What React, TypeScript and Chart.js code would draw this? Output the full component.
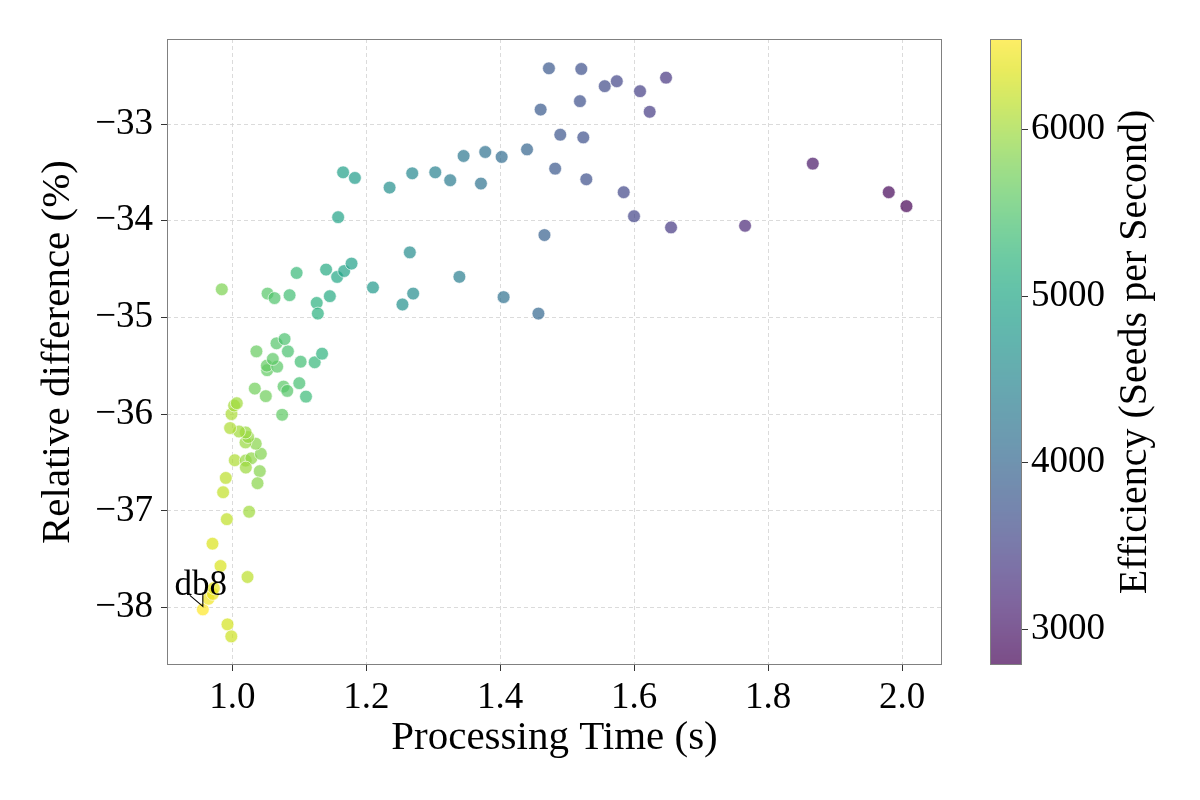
import React, { useEffect, useRef } from 'react';
import { Chart, registerables } from 'chart.js';

Chart.register(...registerables);

// Processing time per run (s)
const processingTime = [
  0.956, 0.9645, 0.971, 0.9725, 0.9928, 0.9985, 0.9704, 0.9824, 1.0227, 1.0251,
  0.9918, 0.9903, 0.9863, 1.0037, 1.02, 1.0284, 1.0202, 1.041, 1.0376, 1.0426,
  1.035, 1.0197, 1.0236, 1.02, 1.01, 0.9967, 0.9988, 1.0027, 1.0067, 1.0744,
  1.05, 1.11, 1.0336, 1.0765, 1.082, 1.1, 1.052, 1.0515, 1.067, 1.0605,
  1.102, 1.123, 1.134, 1.036, 1.083, 1.066, 1.078, 0.9843, 1.0526, 1.063,
  1.0855, 1.096, 1.126, 1.1277, 1.1456, 1.14, 1.1565, 1.167, 1.178, 1.21,
  1.158, 1.1654, 1.183, 1.2348, 1.2686, 1.303, 1.3253, 1.3712, 1.3453, 1.3776,
  1.4021, 1.44, 1.265, 1.254, 1.27, 1.339, 1.405, 1.457, 1.466, 1.4727,
  1.521, 1.556, 1.574, 1.6475, 1.6087, 1.519, 1.4603, 1.6231, 1.4896, 1.524,
  1.482, 1.5285, 1.5843, 1.5997, 1.655, 1.7655, 1.8666, 1.98, 2.0064,
];

// Relative difference (%)
const relativeDifference = [
  -38.02, -37.91, -37.86, -37.8, -38.175, -38.299, -37.34, -37.571, -37.685, -37.01,
  -37.087, -36.66, -36.808, -36.477, -36.48, -36.457, -36.553, -36.59, -36.715, -36.41,
  -36.306, -36.293, -36.237, -36.19, -36.18, -36.144, -36.0, -35.911, -35.887, -36.007,
  -35.814, -35.819, -35.736, -35.715, -35.76, -35.68, -35.546, -35.499, -35.509, -35.43,
  -35.458, -35.464, -35.375, -35.351, -35.351, -35.268, -35.224, -34.709, -34.753, -34.8,
  -34.77, -34.54, -34.85, -34.96, -34.78, -34.505, -34.581, -34.52, -34.443, -34.69,
  -33.963, -33.499, -33.557, -33.657, -33.509, -33.499, -33.581, -33.615, -33.33, -33.289,
  -33.34, -33.262, -34.327, -34.866, -34.753, -34.58, -34.79, -34.96, -34.148, -32.423,
  -32.43, -32.608, -32.557, -32.52, -32.66, -32.763, -32.85, -32.873, -33.11, -33.138,
  -33.461, -33.571, -33.705, -33.953, -34.069, -34.052, -33.409, -33.705, -33.849,
];

// Efficiency (seeds per second)
const efficiency = [
  6545, 6470, 6420, 6400, 6290, 6250, 6330, 6320, 6150, 6000,
  6180, 6150, 6190, 6080, 5950, 5900, 5980, 5850, 5870, 5830,
  5870, 5960, 5940, 5960, 6010, 6080, 6060, 6020, 6000, 5600,
  5700, 5330, 5720, 5560, 5530, 5420, 5620, 5640, 5560, 5580,
  5380, 5280, 5200, 5650, 5440, 5520, 5460, 5800, 5540, 5490,
  5380, 5300, 5170, 5160, 5080, 5080, 5010, 4970, 4920, 4800,
  4960, 4900, 4830, 4640, 4520, 4420, 4340, 4190, 4260, 4160,
  4090, 3980, 4580, 4650, 4590, 4370, 4170, 4020, 3930, 3800,
  3680, 3590, 3550, 3360, 3460, 3680, 3830, 3430, 3760, 3680,
  3800, 3690, 3560, 3530, 3400, 3180, 3000, 2830, 2785,
];

const annotatedLabel = 'db8';
const annotatedIndex = 0;

const xTicks = [1.0, 1.2, 1.4, 1.6, 1.8, 2.0];
const yTicks = [-38, -37, -36, -35, -34, -33];
const colorbarTicks = [3000, 4000, 5000, 6000];

const xTitle = 'Processing Time (s)';
const yTitle = 'Relative difference (%)';
const colorbarTitle = 'Efficiency (Seeds per Second)';

const FONT = '"Liberation Serif", "DejaVu Serif", serif';
const POINT_ALPHA = 0.7;

// viridis colormap sampled every 0.05
const VIRIDIS = [
  '#440154', '#471365', '#482475', '#463480', '#414487', '#3b528b', '#355f8d',
  '#2f6c8e', '#2a788e', '#25848e', '#21918c', '#1e9c89', '#22a884', '#2fb47c',
  '#44bf70', '#5ec962', '#7ad151', '#9bd93c', '#bddf26', '#dfe318', '#fde725',
];

function hexToRgb(h: string): number[] {
  const n = parseInt(h.slice(1), 16);
  return [(n >> 16) & 255, (n >> 8) & 255, n & 255];
}

const VIRIDIS_RGB = VIRIDIS.map(hexToRgb);

function viridis(t: number, alpha: number): string {
  const c = Math.max(0, Math.min(1, t)) * (VIRIDIS_RGB.length - 1);
  const i = Math.min(Math.floor(c), VIRIDIS_RGB.length - 2);
  const f = c - i;
  const a = VIRIDIS_RGB[i];
  const b = VIRIDIS_RGB[i + 1];
  const rgb = a.map((v, k) => Math.round(v + (b[k] - v) * f));
  return `rgba(${rgb[0]},${rgb[1]},${rgb[2]},${alpha})`;
}

const vmin = Math.min(...efficiency);
const vmax = Math.max(...efficiency);
const normalize = (v: number) => (v - vmin) / (vmax - vmin);

const formatMinus = (v: number, digits: number) =>
  (v < 0 ? '\u2212' : '') + Math.abs(v).toFixed(digits);

const framePlugin = {
  id: 'frame',
  afterDraw(chart: any) {
    const { ctx, chartArea: a } = chart;
    ctx.save();
    ctx.strokeStyle = '#808080';
    ctx.lineWidth = 1;
    ctx.strokeRect(a.left + 0.5, a.top + 0.5, a.right - a.left - 1, a.bottom - a.top - 1);
    ctx.restore();
  },
};

const annotationPlugin = {
  id: 'pointLabel',
  afterDatasetsDraw(chart: any) {
    const el = chart.getDatasetMeta(0).data[annotatedIndex];
    if (!el) return;
    const { x, y } = el;
    const { ctx } = chart;
    ctx.save();
    ctx.fillStyle = '#000';
    ctx.font = `35px ${FONT}`;
    ctx.textAlign = 'center';
    ctx.textBaseline = 'alphabetic';
    ctx.fillText(annotatedLabel, x - 2, y - 14);
    ctx.strokeStyle = '#000';
    ctx.lineWidth = 1.1;
    ctx.beginPath();
    ctx.moveTo(x - 13, y - 14);
    ctx.lineTo(x, y - 3);
    ctx.lineTo(x, y - 17);
    ctx.stroke();
    ctx.restore();
  },
};

const colorbarPlugin = {
  id: 'colorbarFill',
  beforeDraw(chart: any) {
    const { ctx, chartArea: a } = chart;
    const scale = chart.scales.y;
    ctx.save();
    for (let py = Math.floor(a.top); py < Math.ceil(a.bottom); py++) {
      const v = scale.getValueForPixel(py + 0.5);
      ctx.fillStyle = viridis(normalize(v), POINT_ALPHA);
      ctx.fillRect(a.left, py, a.right - a.left, 1);
    }
    ctx.restore();
  },
  afterDraw(chart: any) {
    const { ctx, chartArea: a } = chart;
    ctx.save();
    ctx.strokeStyle = '#808080';
    ctx.lineWidth = 1;
    ctx.strokeRect(a.left + 0.5, a.top + 0.5, a.right - a.left - 1, a.bottom - a.top - 1);
    ctx.translate(186, (a.top + a.bottom) / 2);
    ctx.rotate(-Math.PI / 2);
    ctx.fillStyle = '#000';
    ctx.font = `40px ${FONT}`;
    ctx.textAlign = 'center';
    ctx.textBaseline = 'alphabetic';
    ctx.fillText(colorbarTitle, 0, 0);
    ctx.restore();
  },
};

export default function App() {
  const mainRef = useRef<HTMLCanvasElement | null>(null);
  const barRef = useRef<HTMLCanvasElement | null>(null);

  useEffect(() => {
    Chart.defaults.font.family = FONT;
    Chart.defaults.color = '#000';

    const points = processingTime.map((x, i) => ({ x, y: relativeDifference[i] }));
    const colors = efficiency.map((e) => viridis(normalize(e), POINT_ALPHA));

    const gridStyle = {
      color: '#d2d2d2',
      lineWidth: 0.8,
      tickColor: '#333333',
      tickLength: 6,
      tickWidth: 1,
    };

    const main = new Chart(mainRef.current as HTMLCanvasElement, {
      type: 'scatter',
      data: {
        datasets: [
          {
            data: points,
            pointBackgroundColor: colors,
            pointBorderColor: 'rgba(255,255,255,0.7)',
            pointBorderWidth: 0.9,
            pointRadius: 6.4,
            pointHoverRadius: 6.4,
          },
        ],
      },
      options: {
        animation: false,
        responsive: false,
        maintainAspectRatio: false,
        layout: { padding: { left: 0, top: 39, right: 258, bottom: 0 } },
        plugins: { legend: { display: false }, tooltip: { enabled: false } },
        scales: {
          x: {
            type: 'linear',
            min: 0.9025,
            max: 2.0595,
            afterBuildTicks: (s: any) => {
              s.ticks = xTicks.map((value) => ({ value }));
            },
            afterFit: (s: any) => {
              s.height = 135;
            },
            ticks: {
              font: { size: 37 },
              color: '#000',
              padding: 5,
              maxRotation: 0,
              autoSkip: false,
              callback: (v: any) => formatMinus(Number(v), 1),
            },
            grid: gridStyle,
            border: { display: false, dash: [4, 3] },
            title: {
              display: true,
              text: xTitle,
              font: { size: 41 },
              color: '#000',
              padding: { top: 0, bottom: 37 },
            },
          },
          y: {
            type: 'linear',
            min: -38.595,
            max: -32.12,
            afterBuildTicks: (s: any) => {
              s.ticks = yTicks.map((value) => ({ value }));
            },
            afterFit: (s: any) => {
              s.width = 167;
            },
            ticks: {
              font: { size: 37 },
              color: '#000',
              padding: 8,
              autoSkip: false,
              callback: (v: any) => formatMinus(Number(v), 0),
            },
            grid: gridStyle,
            border: { display: false, dash: [4, 3] },
            title: {
              display: true,
              text: yTitle,
              font: { size: 41 },
              color: '#000',
              padding: { top: 34, bottom: 0 },
            },
          },
        },
      },
      plugins: [framePlugin, annotationPlugin],
    });

    const bar = new Chart(barRef.current as HTMLCanvasElement, {
      type: 'scatter',
      data: { datasets: [] },
      options: {
        animation: false,
        responsive: false,
        maintainAspectRatio: false,
        layout: { padding: { left: 30, top: 39, right: 0, bottom: 135 } },
        plugins: { legend: { display: false }, tooltip: { enabled: false } },
        scales: {
          x: { display: false, min: 0, max: 1 },
          y: {
            type: 'linear',
            position: 'right',
            min: vmin,
            max: vmax,
            afterBuildTicks: (s: any) => {
              s.ticks = colorbarTicks.map((value) => ({ value }));
            },
            afterFit: (s: any) => {
              s.width = 178;
            },
            ticks: {
              font: { size: 37 },
              color: '#000',
              padding: 3,
              autoSkip: false,
              callback: (v: any) => String(v),
            },
            grid: {
              drawOnChartArea: false,
              tickColor: '#333333',
              tickLength: 6,
              tickWidth: 1,
            },
            border: { display: false },
          },
        },
      },
      plugins: [colorbarPlugin],
    });

    return () => {
      main.destroy();
      bar.destroy();
    };
  }, []);

  return (
    <div style={{ position: 'absolute', left: 0, top: 0, width: 1200, height: 800, background: '#fff' }}>
      <canvas
        ref={mainRef}
        width={1200}
        height={800}
        style={{ position: 'absolute', left: 0, top: 0, width: 1200, height: 800 }}
      />
      <canvas
        ref={barRef}
        width={240}
        height={800}
        style={{ position: 'absolute', left: 960, top: 0, width: 240, height: 800 }}
      />
    </div>
  );
}
